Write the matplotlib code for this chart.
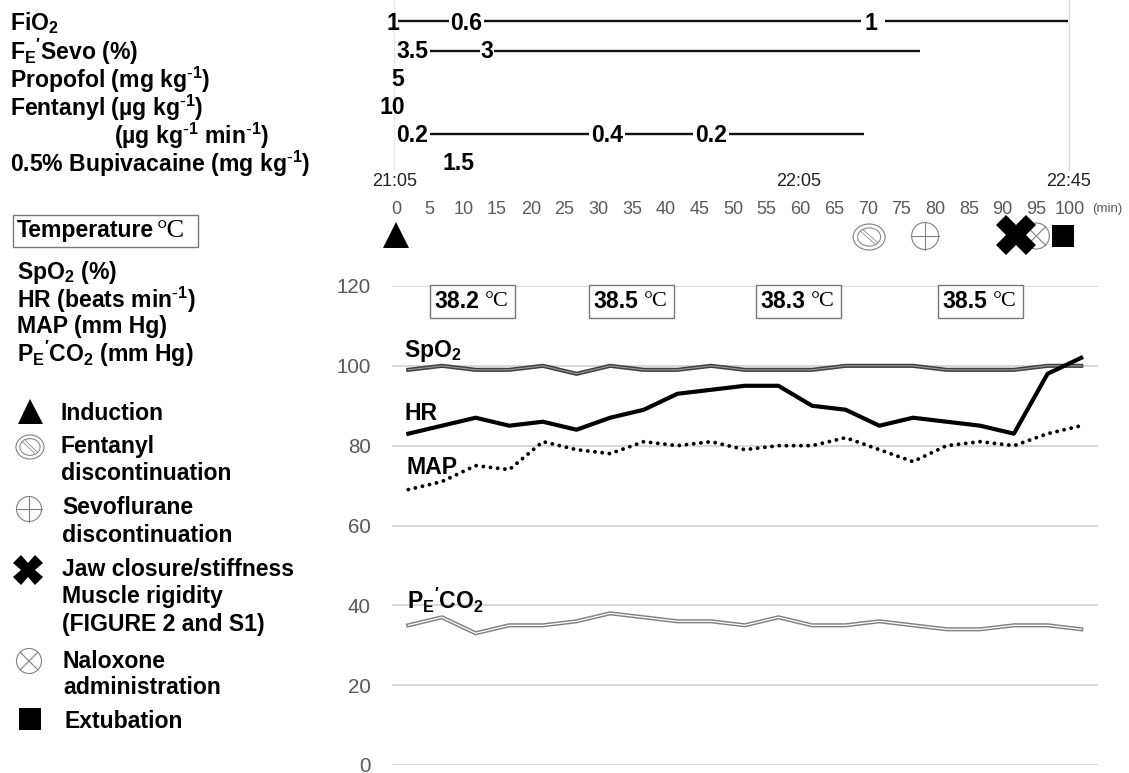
import matplotlib
matplotlib.use('Agg')
import matplotlib.pyplot as plt
from matplotlib.patches import Ellipse, Rectangle

plt.rcParams['font.family'] = ['Liberation Sans', 'DejaVu Sans']
plt.rcParams['mathtext.default'] = 'regular'

W, H = 1129, 773

# values, one point every 5 min
spo2 = [99, 100, 99, 99, 100, 98, 100, 99, 99, 100, 99, 99, 99, 100, 100, 100, 99, 99, 99, 100, 100]
hr = [83, 85, 87, 85, 86, 84, 87, 89, 93, 94, 95, 95, 90, 89, 85, 87, 86, 85, 83, 98, 102]
map_bp = [69, 71, 75, 74, 81, 79, 78, 81, 80, 81, 79, 80, 80, 82, 79, 76, 80, 81, 80, 83, 85]
peco2 = [35, 37, 33, 35, 35, 36, 38, 37, 36, 36, 35, 37, 35, 35, 36, 35, 34, 34, 35, 35, 34]
minutes = list(range(0, 105, 5))
y_ticks = [0, 20, 40, 60, 80, 100, 120]

temps = ['38.2', '38.5', '38.3', '38.5']

# dose rows: (label, minute) and line pieces (start, end) in minutes
fio2_labels = [('1', -0.4), ('0.6', 10.4), ('1', 70.5)]
fio2_lines = [(0.3, 7.9), (13.0, 69.0), (72.6, 99.7)]
sevo_labels = [('3.5', 2.4), ('3', 13.5)]
sevo_lines = [(5.0, 12.4), (14.6, 77.7)]
propofol_labels = [('5', 0.3)]
fentanyl_labels = [('10', -0.6)]
infusion_labels = [('0.2', 2.4), ('0.4', 31.3), ('0.2', 46.7)]
infusion_lines = [(5.0, 28.6), (34.0, 44.0), (49.4, 69.4)]
bupi_labels = [('1.5', 9.2)]

clock_labels = [('21:05', -0.2), ('22:05', 59.7), ('22:45', 99.8)]
induction_min = 0
fentanyl_off_min = 70.2
sevo_off_min = 78.5
jaw_min = 92
naloxone_min = 95
extubation_min = 99

INV = r'$^{\text{-}1}$'
row_names = ['FiO$_2$', "F$_E$$'$Sevo (%)", 'Propofol (mg kg' + INV + ')', 'Fentanyl (µg kg' + INV + ')',
             '(µg kg' + INV + ' min' + INV + ')', '0.5% Bupivacaine (mg kg' + INV + ')']
vital_names = ['SpO$_2$ (%)', 'HR (beats min' + INV + ')', 'MAP (mm Hg)', "P$_E$$'$CO$_2$ (mm Hg)"]

GRID = '#d4d4d4'
TICK = '#595959'
BOLD = 16.6


def axes_px(fig, left, top, right, bottom):
    return fig.add_axes([left / W, 1 - bottom / H, (right - left) / W, (bottom - top) / H])


def fentanyl_sym(ax, x, y, w, h):
    ax.add_patch(Ellipse((x, y), w, h, fc='white', ec='#808080', lw=0.8))
    ax.add_patch(Ellipse((x, y), w * 0.72, h * 0.7, fc='white', ec='#8a8a8a', lw=0.8))
    ax.plot([x - w * 0.2, x + w * 0.2], [y - h * 0.22, y + h * 0.22], color='#8a8a8a', lw=2.6)
    ax.plot([x - w * 0.2, x + w * 0.2], [y - h * 0.22, y + h * 0.22], color='white', lw=1.4)


def sevo_sym(ax, x, y, d):
    ax.add_patch(Ellipse((x, y), d, d, fc='white', ec='#808080', lw=0.8))
    ax.plot([x - d / 2, x + d / 2], [y, y], color='#808080', lw=0.8)
    ax.plot([x, x], [y - d / 2, y + d / 2], color='#808080', lw=0.8)


def naloxone_sym(ax, x, y, d):
    k = d * 0.354
    ax.add_patch(Ellipse((x, y), d, d, fc='white', ec='#808080', lw=0.8))
    ax.plot([x - k, x + k], [y - k, y + k], color='#808080', lw=0.8)
    ax.plot([x - k, x + k], [y + k, y - k], color='#808080', lw=0.8)


def main():
    fig = plt.figure(figsize=(W / 100, H / 100), dpi=100)

    # main chart, category style axis with points in mid slot
    ax = axes_px(fig, 391.5, 286, 1098, 765)
    ax.set_xlim(-2.5, 102.5)
    ax.set_ylim(0, 120)
    ax.set_yticks(y_ticks)
    ax.set_xticks([])
    ax.tick_params(axis='y', length=0, labelsize=14.8, labelcolor=TICK, pad=15)
    ax.grid(axis='y', color=GRID, lw=1.3)
    ax.set_axisbelow(True)
    for s in ax.spines.values():
        s.set_visible(False)

    ax.plot(minutes, spo2, color='#404040', lw=3.0, clip_on=False)
    ax.plot(minutes, spo2, color='#9a9a9a', lw=0.8, clip_on=False)
    ax.plot(minutes, hr, color='black', lw=3.0, clip_on=False)
    ax.plot(minutes, map_bp, color='black', lw=2.8, dashes=(0.01, 1.85), dash_capstyle='round', clip_on=False)
    ax.plot(minutes, peco2, color='#808080', lw=3.0, clip_on=False)
    ax.plot(minutes, peco2, color='white', lw=0.9, clip_on=False)

    # overlay in pixels for labels, legend and symbols
    ov = axes_px(fig, 0, 0, W, H)
    ov.set_xlim(0, W)
    ov.set_ylim(H, 0)
    ov.axis('off')
    ov.patch.set_alpha(0)

    def to_x(m):
        return 396 + m * 6.74

    # faint vertical lines
    ov.plot([394, 394], [0, 168], color='#e8e8e8', lw=1)
    ov.plot([1069, 1069], [0, 170], color='#dcdcdc', lw=1)

    for name, x, y in zip(row_names, [10, 10, 10, 10, 114, 10], [23, 52, 80, 108, 136, 164]):
        ov.text(x, y, name, fontsize=BOLD, fontweight='bold', va='center', ha='left')

    rows = [(fio2_labels, fio2_lines, 23, 21), (sevo_labels, sevo_lines, 52, 51),
            (propofol_labels, [], 80, 80), (fentanyl_labels, [], 108, 108),
            (infusion_labels, infusion_lines, 136, 134), (bupi_labels, [], 164, 164)]
    for labels, lines, y_text, y_line in rows:
        for a, b in lines:
            ov.plot([to_x(a), to_x(b)], [y_line, y_line], color='#111111', lw=1.7, solid_capstyle='butt')
        for txt, m in labels:
            ov.text(to_x(m), y_text, txt, fontsize=BOLD, fontweight='bold', ha='center', va='center')

    for txt, m in clock_labels:
        ov.text(to_x(m), 182, txt, fontsize=13, color='#222222', ha='center', va='center')
    for m in range(0, 105, 5):
        ov.text(to_x(m), 210, str(m), fontsize=13, color=TICK, ha='center', va='center')
    ov.text(1107, 209, '(min)', fontsize=9.5, color=TICK, ha='center', va='center')

    # event symbols above the chart
    ov.plot(to_x(induction_min), 235, marker='^', ms=18.5, color='black', mew=0)
    fentanyl_sym(ov, to_x(fentanyl_off_min), 237, 32, 26)
    sevo_sym(ov, to_x(sevo_off_min), 236, 27)
    naloxone_sym(ov, to_x(naloxone_min), 236, 26)
    ov.plot(to_x(jaw_min), 235, marker='X', ms=29, color='black', mew=0)
    ov.plot(to_x(extubation_min), 235.5, marker='s', ms=16.5, color='black', mew=0)

    # left legend
    ov.add_patch(Rectangle((12.5, 215), 185, 32, fc='white', ec='#777777', lw=1))
    ov.text(17, 231, 'Temperature', fontsize=BOLD, fontweight='bold', va='center')
    ov.text(157, 231, '°C', fontsize=19, family='Liberation Serif', va='center', ha='left')

    for name, y in zip(vital_names, [272, 300, 327, 354]):
        ov.text(17, y, name, fontsize=BOLD, fontweight='bold', va='center')

    ov.plot(29.5, 411, marker='^', ms=18, color='black', mew=0)
    fentanyl_sym(ov, 30, 447, 28, 24)
    sevo_sym(ov, 29, 509, 25)
    ov.plot(28, 570, marker='X', ms=21, color='black', mew=0)
    naloxone_sym(ov, 29, 661, 25)
    ov.plot(29.5, 719, marker='s', ms=16.5, color='black', mew=0)

    legend_rows = [('Induction', 61, 413), ('Fentanyl', 61, 446), ('discontinuation', 61, 474),
                   ('Sevoflurane', 62, 507), ('discontinuation', 62, 535), ('Jaw closure/stiffness', 62, 569),
                   ('Muscle rigidity', 62, 597), ('(FIGURE 2 and S1)', 62, 625), ('Naloxone', 63, 661),
                   ('administration', 63, 688), ('Extubation', 64, 722)]
    for txt, x, y in legend_rows:
        ov.text(x, y, txt, fontsize=BOLD, fontweight='bold', va='center')

    # temperature boxes
    for txt, left in zip(temps, [430, 589, 756, 938]):
        ov.add_patch(Rectangle((left, 285), 84.5, 33, fc='white', ec='#777777', lw=1, zorder=3))
        ov.text(left + 4, 302, txt, fontsize=BOLD, fontweight='bold', va='center', zorder=4)
        ov.text(left + 55, 302, '°C', fontsize=16, family='Liberation Serif', va='center', zorder=4)

    # series names
    ov.text(404, 351, 'SpO$_2$', fontsize=BOLD, fontweight='bold', va='center')
    ov.text(404, 414, 'HR', fontsize=BOLD, fontweight='bold', va='center')
    ov.text(406, 468, 'MAP', fontsize=BOLD, fontweight='bold', va='center')
    ov.text(407, 600, "P$_E$$'$CO$_2$", fontsize=BOLD, fontweight='bold', va='center')

    fig.savefig('out.png', dpi=100, facecolor='white')


if __name__ == '__main__':
    main()
